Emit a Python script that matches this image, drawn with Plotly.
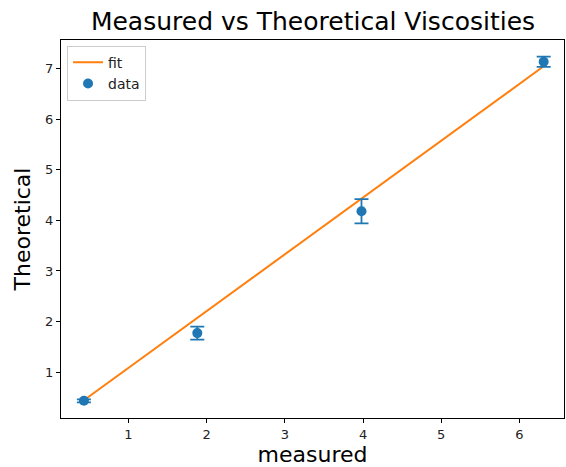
import plotly.graph_objects as go

measured = [0.43, 1.88, 3.98, 6.31]
theoretical = [0.43, 1.77, 4.18, 7.14]
errors = [0.03, 0.13, 0.24, 0.10]
fit_y = [0.44, 2.07, 4.43, 7.05]

title = "Measured vs Theoretical Viscosities"
blue = "#1f77b4"
orange = "#ff7f0e"
font = "DejaVu Sans"

fig = go.Figure()
fig.add_trace(go.Scatter(
    x=measured, y=fit_y, mode="lines", name="fit",
    line=dict(color=orange, width=2), legendrank=1))
fig.add_trace(go.Scatter(
    x=measured, y=theoretical, mode="markers", name="data",
    marker=dict(color=blue, size=10),
    error_y=dict(type="data", array=errors, visible=True, color=blue,
                 thickness=1.8, width=7),
    legendrank=2))

axis_common = dict(
    showgrid=False, zeroline=False, showline=True, linecolor="black",
    linewidth=1, mirror=True, ticks="outside", ticklen=4, tickwidth=1,
    tickcolor="black", tickfont=dict(family=font, size=13, color="#222"),
)

fig.update_layout(
    width=566, height=467,
    margin=dict(l=61, r=2, t=40, b=49),
    paper_bgcolor="white", plot_bgcolor="white",
    font=dict(family=font, color="black"),
    title=dict(text=title, x=0.553, xanchor="center", y=1 - 21 / 467,
               yanchor="middle", yref="container",
               font=dict(family=font, size=25, color="black")),
    xaxis=dict(range=[0.137, 6.57], tickvals=[1, 2, 3, 4, 5, 6],
               title=dict(text="measured", font=dict(family=font, size=22),
                          standoff=5),
               **axis_common),
    yaxis=dict(range=[0.09, 7.57], tickvals=[1, 2, 3, 4, 5, 6, 7],
               title=dict(text="Theoretical", font=dict(family=font, size=22),
                          standoff=8),
               **axis_common),
    showlegend=True,
    legend=dict(x=0.012, y=0.985, xanchor="left", yanchor="top",
                bgcolor="white", bordercolor="#cccccc", borderwidth=1,
                font=dict(family=font, size=14, color="#222"),
                tracegroupgap=2),
)

fig.write_html("out.html")
